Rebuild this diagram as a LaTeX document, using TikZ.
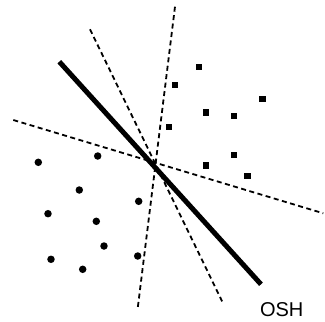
\documentclass[tikz,border=0pt]{standalone}
\usepackage{fontspec}
\setmainfont{Liberation Sans}
\begin{document}
\begin{tikzpicture}[x=1pt,y=-1pt,
  dashline/.style={line width=1.8pt,dash pattern=on 5pt off 3.5pt},
  osh/.style={line width=5pt},
  pt/.style={circle,fill=black,inner sep=0pt,minimum size=7.5pt},
  sq/.style={rectangle,fill=black,inner sep=0pt,minimum size=6.8pt}]
\useasboundingbox (0,0) rectangle (325,322);
\coordinate (d1a) at (175,6.7);
\coordinate (d1b) at (137.7,308.3);
\coordinate (d2a) at (90,29.3);
\coordinate (d2b) at (222.3,301.7);
\coordinate (d3a) at (13.3,120);
\coordinate (d3b) at (323.3,213.3);
\coordinate (oa) at (59.3,61.7);
\coordinate (ob) at (261,284.3);
\draw[dashline] (d1a) -- (d1b);
\draw[dashline] (d2a) -- (d2b);
\draw[dashline] (d3a) -- (d3b);
\draw[osh] (oa) -- (ob);
\foreach \x/\y [count=\i] in {199/67,175/85,262.3/99,206/112.7,234/116,169/127,234/155,206/165.3,247.7/176}
  \node[sq] (s\i) at (\x,\y) {};
\foreach \x/\y [count=\i] in {38.3/162.3,97.7/156,79.3/190,138.7/201.3,48/213.7,96.3/221.3,104/246,51/259.3,82.7/269.3,137.7/256}
  \node[pt] (c\i) at (\x,\y) {};
\node[font=\fontsize{20}{22}\selectfont,inner sep=0pt,anchor=base] (lbl) at (281.7,316.7) {OSH};
\end{tikzpicture}
\end{document}
